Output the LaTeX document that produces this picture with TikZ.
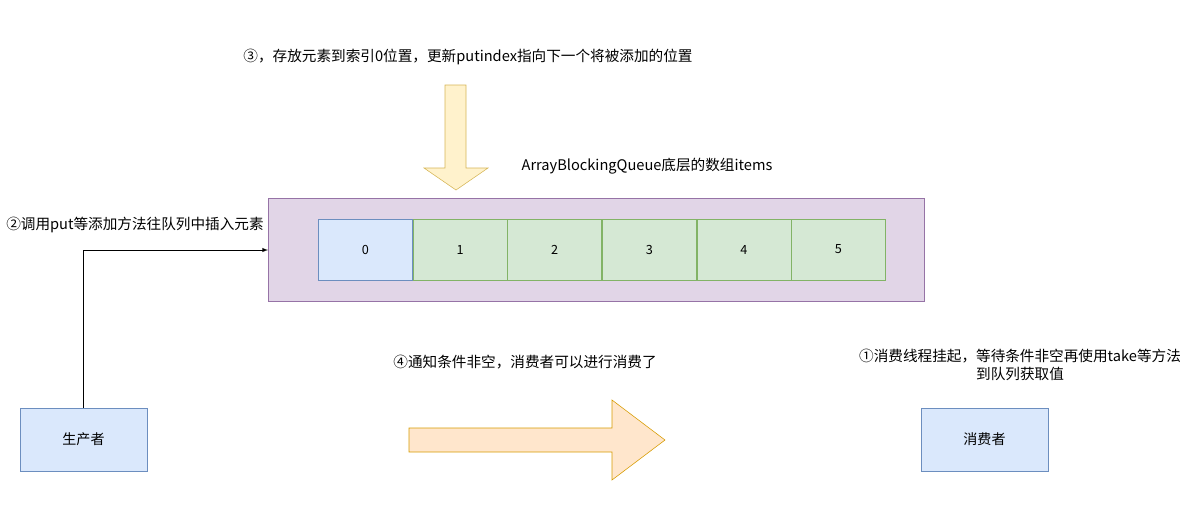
\documentclass[tikz,border=0pt]{standalone}
\usepackage{fontspec}
\setmainfont{Noto Sans CJK SC}
\usetikzlibrary{positioning}
\definecolor{bluefill}{HTML}{DAE8FC}
\definecolor{bluedraw}{HTML}{6C8EBF}
\definecolor{greenfill}{HTML}{D5E8D4}
\definecolor{greendraw}{HTML}{82B366}
\definecolor{purplefill}{HTML}{E1D5E7}
\definecolor{purpledraw}{HTML}{9673A6}
\definecolor{yellowfill}{HTML}{FFF2CC}
\definecolor{yellowdraw}{HTML}{D6B656}
\definecolor{orangefill}{HTML}{FFE6CC}
\definecolor{orangedraw}{HTML}{D79B00}
\tikzset{
  lbl/.style={font=\fontsize{10.4}{13}\selectfont, inner sep=0pt},
  cell/.style={draw=greendraw, fill=greenfill, minimum width=2.35cm, minimum height=1.52cm, inner sep=0pt, font=\fontsize{9}{11}\selectfont},
  role/.style={draw=bluedraw, fill=bluefill, minimum width=3.17cm, minimum height=1.57cm, font=\fontsize{10}{12}\selectfont}
}
\begin{document}
\begin{tikzpicture}[x=0.025cm,y=-0.025cm]
\useasboundingbox (0,0) rectangle (1195,529);

\draw[purpledraw, fill=purplefill] (268,198) rectangle (924,301); %array
\node[lbl] (title) at (647,166) {ArrayBlockingQueue底层的数组items};

% cells
\node[cell, draw=bluedraw, fill=bluefill] (c0) at (365.5,249.5) {0};
\foreach \i/\p in {1/0,2/1,3/2,4/3,5/4}
  \node[cell, right=0pt of c\p] (c\i) {\i};

% put arrow
\draw[yellowdraw, fill=yellowfill] (445,85) -- (466,85) -- (466,168) -- (488,168)
  -- (456,190) -- (424,168) -- (445,168) -- cycle;
\node[lbl] (step3) at (468,57) {③，存放元素到索引0位置，更新putindex指向下一个将被添加的位置};

% producer
\node[role] (prod) at (83.5,439.5) {生产者};
\coordinate (arr) at (268,250);
\draw[-latex] (prod.north) |- (arr);
\node[lbl] (step2) at (135,225) {②调用put等添加方法往队列中插入元素};

% consumer
\node[role] (cons) at (984.5,439.5) {消费者};
\node[lbl, align=center] (step1) at (1020,365) {①消费线程挂起，等待条件非空再使用take等方法\\到队列获取值};

% notify arrow
\draw[orangedraw, fill=orangefill] (409,428) -- (612,428) -- (612,400) -- (665,440)
  -- (612,480) -- (612,452) -- (409,452) -- cycle;
\node[lbl] (step4) at (525,362) {④通知条件非空，消费者可以进行消费了};
\end{tikzpicture}
\end{document}
